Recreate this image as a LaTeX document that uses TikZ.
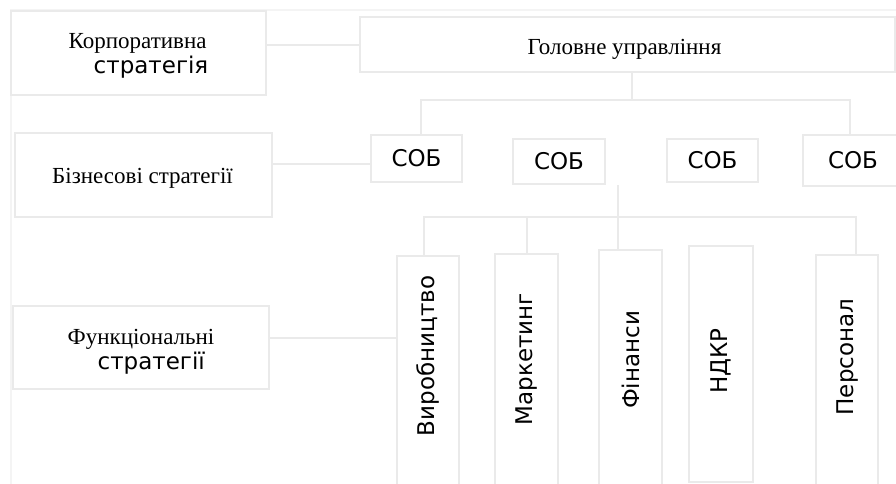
\documentclass[tikz,border=0pt]{standalone}
\usepackage{fontspec}
\setmainfont{Liberation Serif}
\newfontfamily\sobfont{DejaVu Sans}
\usetikzlibrary{calc}
\definecolor{boxgray}{RGB}{234,234,234}
\definecolor{framegray}{RGB}{244,244,244}

\begin{document}
\begin{tikzpicture}[x=1pt,y=-1pt,
  box/.style={draw=boxgray,line width=2pt,inner sep=0pt},
  txt/.style={inner sep=0pt,font=\fontsize{23}{25}\selectfont},
  sob/.style={box,font=\sobfont\fontsize{23}{25}\selectfont},
  vlabel/.style={rotate=90,inner sep=0pt,font=\sobfont\fontsize{23}{25}\selectfont},
  wire/.style={draw=boxgray,line width=2pt}]
\useasboundingbox (0,0) rectangle (896,483);
\clip (0,0) rectangle (896,483);
\path[draw=framegray,line width=2pt] (11,10) rectangle (910,500);
% levels
\node[box,minimum width=255pt,minimum height=84pt] (corp) at (138.5,53) {};
\node[box,minimum width=257pt,minimum height=84pt] (biz) at (143.5,175) {};
\node[box,minimum width=256pt,minimum height=83pt] (func) at (141,347.5) {};
\node[txt,align=left] (corp-t) at (138.5,56) {Корпоративна\\\hspace*{25pt}{\sobfont стратегія}};
\node[txt] (biz-t) at (142.5,178) {Бізнесові стратегії};
\node[txt,align=left] (func-t) at (141,351.5) {Функціональні\\\hspace*{30pt}{\sobfont стратегії}};
% head office and units
\node[box,minimum width=535pt,minimum height=55pt] (hq) at (627.5,44.5) {};
\node[txt] (hq-t) at (624.5,49.5) {Головне управління};
\node[sob,minimum width=91pt,minimum height=47pt] (sob1) at (416.5,158.5) {СОБ};
\node[sob,minimum width=92pt,minimum height=45pt] (sob2) at (559,161.5) {СОБ};
\node[sob,minimum width=91pt,minimum height=43pt] (sob3) at (712.5,160.5) {СОБ};
\node[sob,minimum width=100pt,minimum height=51pt] (sob4) at (853,160.5) {СОБ};
% functions
\node[box,minimum width=62pt,minimum height=245pt,anchor=north] (prod) at (428,255) {};
\node[box,minimum width=63pt,minimum height=247pt,anchor=north] (mark) at (526.5,253) {};
\node[box,minimum width=63pt,minimum height=251pt,anchor=north] (fin) at (630.5,249) {};
\node[box,minimum width=64pt,minimum height=236pt,anchor=north] (rnd) at (721,245) {};
\node[box,minimum width=62pt,minimum height=246pt,anchor=north] (pers) at (847,254) {};
\node[vlabel] (prod-t) at (428,356) {Виробництво};
\node[vlabel] (mark-t) at (526.5,359) {Маркетинг};
\node[vlabel] (fin-t) at (630.5,360) {Фінанси};
\node[vlabel] (rnd-t) at (721,361) {НДКР};
\node[vlabel] (pers-t) at (847,357) {Персонал};
% links
\coordinate (bizrow) at (300,164);
\coordinate (funcrow) at (300,338);
\coordinate (hqbus) at (632,100);
\coordinate (fbus) at (618,217);
\path[wire] (corp.east |- hq.west) -- (hq.west);
\path[wire] (biz.east |- bizrow) -- (sob1.west |- bizrow);
\path[wire] (func.east |- funcrow) -- (prod.west |- funcrow);
\path[wire] (hqbus |- hq.south) -- (hqbus);
\path[wire] ($(sob1.north)+(4.5,0)$) |- (hqbus) -| ($(sob4.north)+(-3,0)$);
\path[wire] (fbus |- sob2.south) -- (fbus) -- (fbus |- fin.north);
\path[wire] ($(prod.north)+(-4,0)$) |- (fbus) -| ($(pers.north)+(9,0)$);
\path[wire] (mark.north) -- (mark.north |- fbus);
\path[wire] ($(rnd.north)+(-16,0)$) -- ($(rnd.north)+(-16,0)$ |- fbus);
\end{tikzpicture}
\end{document}
